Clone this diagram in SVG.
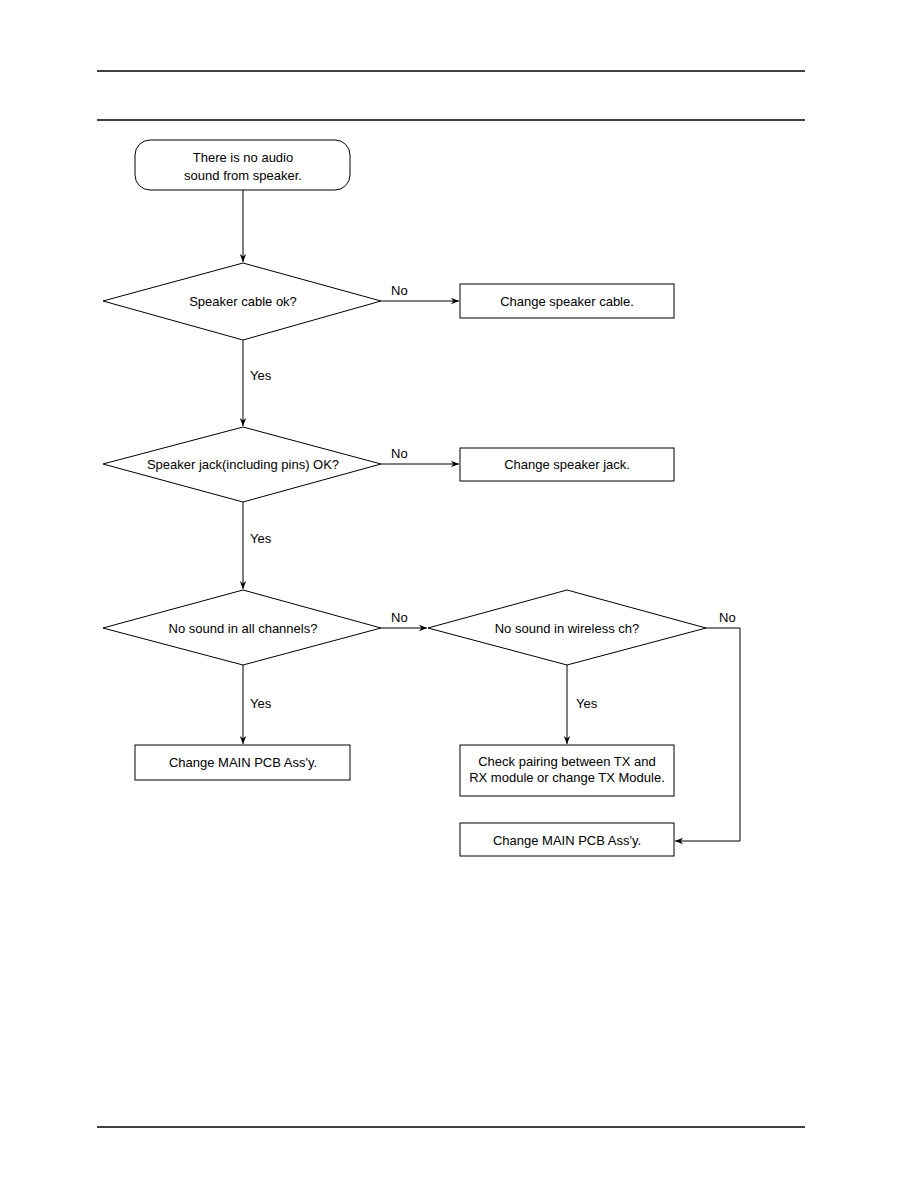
<svg xmlns="http://www.w3.org/2000/svg" width="918" height="1188" viewBox="0 0 918 1188">
<defs>
<marker id="ah" viewBox="0 0 10 10" refX="10" refY="5" markerWidth="8" markerHeight="8" markerUnits="userSpaceOnUse" orient="auto">
<path d="M0,1 L10,5 L0,9 L3,5 Z" fill="#000"/>
</marker>
<style>
.s{fill:#fff;stroke:#000;stroke-width:1}
.t{font-family:"Liberation Sans",Arial,sans-serif;font-size:13px;fill:#000}
.c{text-anchor:middle}
.l{fill:none;stroke:#000;stroke-width:1}
.r{stroke:#000;stroke-width:1.5}
</style>
</defs>
<rect width="918" height="1188" fill="#fff"/>
<g id="rules">
<line class="r" x1="97" y1="71" x2="805" y2="71"/>
<line class="r" x1="97" y1="120" x2="805" y2="120"/>
<line class="r" x1="97" y1="1127" x2="805" y2="1127"/>
</g>
<g id="connectors">
<line class="l" x1="243" y1="190" x2="243" y2="262" marker-end="url(#ah)"/>
<line class="l" x1="381" y1="301" x2="459" y2="301" marker-end="url(#ah)"/>
<text class="t" x="391" y="295">No</text>
<line class="l" x1="243" y1="340" x2="243" y2="426" marker-end="url(#ah)"/>
<text class="t" x="250" y="380">Yes</text>
<line class="l" x1="381" y1="464" x2="459" y2="464" marker-end="url(#ah)"/>
<text class="t" x="391" y="458">No</text>
<line class="l" x1="243" y1="502" x2="243" y2="589" marker-end="url(#ah)"/>
<text class="t" x="250" y="543">Yes</text>
<line class="l" x1="381" y1="628" x2="427" y2="628" marker-end="url(#ah)"/>
<text class="t" x="391" y="622">No</text>
<polyline class="l" points="706,628 740,628 740,841 675,841" marker-end="url(#ah)"/>
<text class="t" x="719" y="622">No</text>
<line class="l" x1="243" y1="665" x2="243" y2="744" marker-end="url(#ah)"/>
<text class="t" x="250" y="708">Yes</text>
<line class="l" x1="567" y1="665" x2="567" y2="744" marker-end="url(#ah)"/>
<text class="t" x="576" y="708">Yes</text>
</g>
<g id="start">
<rect class="s" x="135" y="140" width="215" height="50" rx="15"/>
<text class="t c" x="243" y="162">There is no audio</text>
<text class="t c" x="243" y="180">sound from speaker.</text>
</g>
<g id="d1">
<polygon class="s" points="103,301 243,263 381,301 243,340"/>
<text class="t c" x="243" y="306">Speaker cable ok?</text>
</g>
<g id="b1">
<rect class="s" x="460" y="284" width="214" height="34"/>
<text class="t c" x="567" y="306">Change speaker cable.</text>
</g>
<g id="d2">
<polygon class="s" points="103,464 243,427 381,464 243,502"/>
<text class="t c" x="243" y="469">Speaker jack(including pins) OK?</text>
</g>
<g id="b2">
<rect class="s" x="460" y="448" width="214" height="33"/>
<text class="t c" x="567" y="469">Change speaker jack.</text>
</g>
<g id="d3">
<polygon class="s" points="103,628 243,590 381,628 243,665"/>
<text class="t c" x="243" y="633">No sound in all channels?</text>
</g>
<g id="d4">
<polygon class="s" points="428,628 567,590 706,628 567,665"/>
<text class="t c" x="567" y="633">No sound in wireless ch?</text>
</g>
<g id="b3">
<rect class="s" x="135" y="745" width="215" height="35"/>
<text class="t c" x="243" y="767">Change MAIN PCB Ass'y.</text>
</g>
<g id="b4">
<rect class="s" x="460" y="745" width="214" height="51"/>
<text class="t c" x="567" y="766">Check pairing between TX and</text>
<text class="t c" x="567" y="782">RX module or change TX Module.</text>
</g>
<g id="b5">
<rect class="s" x="460" y="823" width="214" height="33"/>
<text class="t c" x="567" y="845">Change MAIN PCB Ass'y.</text>
</g>
</svg>
